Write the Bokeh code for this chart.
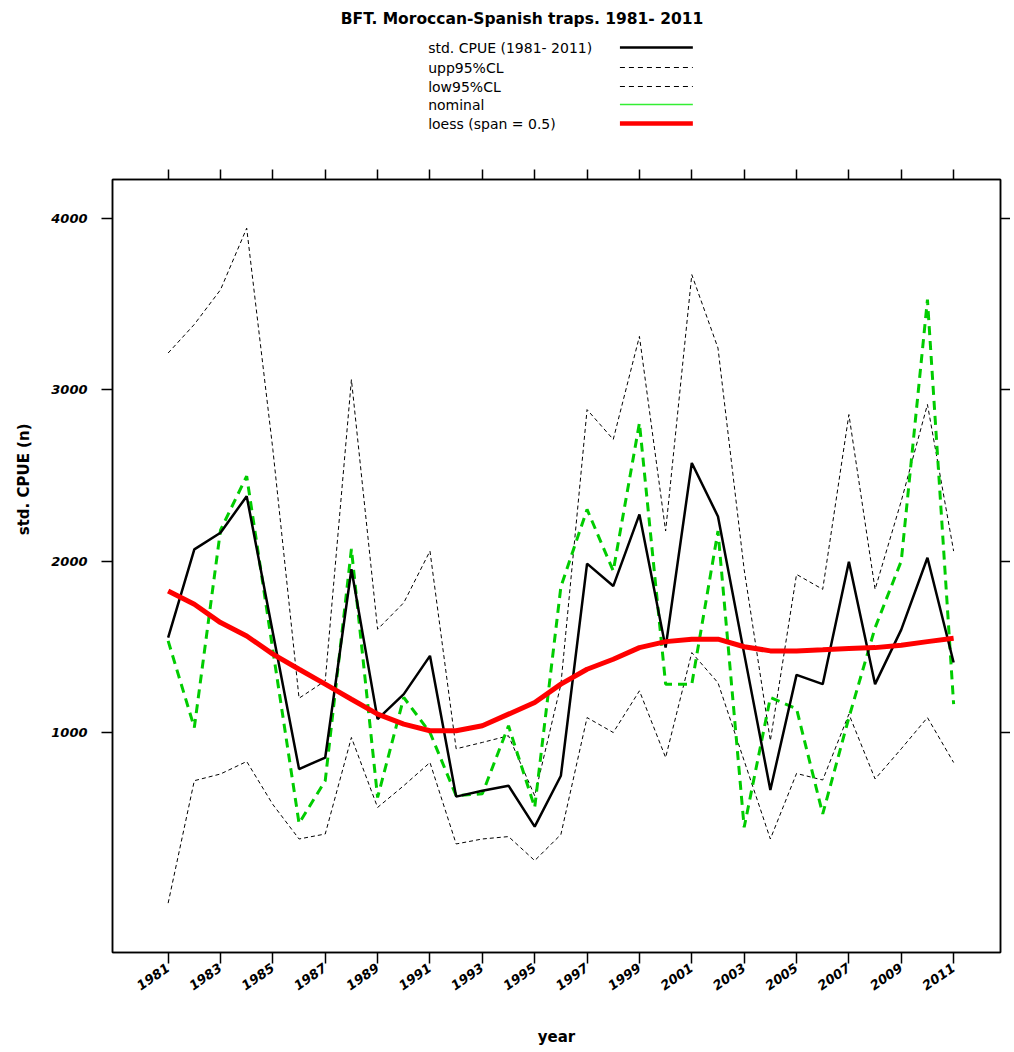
from bokeh.plotting import figure
from bokeh.models import Range1d, FixedTicker, LinearAxis, Title, ColumnDataSource
from bokeh.layouts import column
from bokeh.embed import file_html
from bokeh.resources import INLINE
from bokeh.core.properties import value

years = list(range(1981, 2012))
std_cpue = [1553, 2068, 2165, 2378, 1582, 787, 854, 1952, 1078, 1224, 1447, 626, 660, 690, 451,
            748, 1985, 1854, 2272, 1495, 2572, 2260, 1460, 665, 1336, 1282, 1996, 1282, 1600, 2019, 1408]
upp95 = [3213, 3380, 3582, 3941, 2650, 1200, 1301, 3058, 1602, 1757, 2058, 905, 942, 981, 631,
         1280, 2883, 2709, 3310, 2175, 3670, 3242, 1950, 952, 1922, 1835, 2854, 1835, 2350, 2913, 2058]
low95 = [5, 719, 758, 831, 580, 379, 408, 971, 563, 690, 825, 350, 379, 393, 253,
         405, 1087, 1000, 1243, 854, 1466, 1290, 835, 379, 761, 723, 1107, 729, 905, 1087, 825]
nominal = [1534, 1029, 2180, 2495, 1480, 470, 719, 2070, 621, 1204, 1000, 631, 643, 1039, 563,
           1850, 2301, 1942, 2805, 1282, 1282, 2175, 447, 1204, 1138, 525, 1087, 1611, 2000, 3524, 1165]
loess = [1825, 1748, 1641, 1563, 1457, 1369, 1282, 1194, 1107, 1049, 1010, 1010, 1039, 1107, 1175,
         1282, 1369, 1427, 1495, 1530, 1544, 1544, 1500, 1476, 1476, 1482, 1490, 1495, 1509, 1530, 1550]

x_ticks = years[::2]
y_ticks = [1000, 2000, 3000, 4000]

title_text = "BFT. Moroccan-Spanish traps. 1981- 2011"
legend_labels = ["std. CPUE (1981- 2011)", "upp95%CL", "low95%CL", "nominal", "loess (span = 0.5)"]

FONT = "DejaVu Sans"
W = 1010
BL, BR = 112, 9

# ---------- header (title + legend) ----------
head = figure(width=W, height=150, x_range=Range1d(BL, W - BR), y_range=Range1d(150, 0),
              output_backend="svg", toolbar_location=None,
              min_border_left=BL, min_border_right=BR, min_border_top=0, min_border_bottom=0)
head.axis.visible = False
head.grid.visible = False
head.outline_line_color = None

head.text(x=[522], y=[18], text=[title_text], text_align="center", text_baseline="middle",
          text_font=value(FONT), text_font_size="15.5px", text_font_style="bold", text_color="black")

rows_y = [47, 67, 86, 104, 123]
head.text(x=[428] * 5, y=rows_y, text=legend_labels, text_align="left", text_baseline="middle",
          text_font=value(FONT), text_font_size="14px", text_color="black")
lx = [620, 693]
head.line(lx, [rows_y[0]] * 2, line_color="black", line_width=2.5)
head.line(lx, [rows_y[1]] * 2, line_color="black", line_width=1, line_dash="5 4")
head.line(lx, [rows_y[2]] * 2, line_color="black", line_width=1, line_dash="5 4")
head.line(lx, [rows_y[3]] * 2, line_color="#33ee33", line_width=1.5)
head.line(lx, [rows_y[4]] * 2, line_color="#ff0000", line_width=4.5)

# ---------- main plot ----------
p = figure(width=W, height=900, x_range=Range1d(1978.875, 2012.79), y_range=Range1d(-283, 4225),
           output_backend="svg", toolbar_location=None,
           min_border_left=BL, min_border_right=BR, min_border_top=29, min_border_bottom=98)
p.grid.visible = False
p.outline_line_color = "black"
p.outline_line_width = 1.5

src = ColumnDataSource(dict(year=years, std=std_cpue, upp=upp95, low=low95, nom=nominal, lo=loess))

p.line("year", "upp", source=src, line_color="black", line_width=1, line_dash="4 3")
p.line("year", "low", source=src, line_color="black", line_width=1, line_dash="4 3")
p.line("year", "nom", source=src, line_color="#00cc00", line_width=3, line_dash="9 6")
p.line("year", "std", source=src, line_color="black", line_width=2.5)
p.line("year", "lo", source=src, line_color="#ff0000", line_width=5)

for ax in [p.xaxis[0], p.yaxis[0]]:
    ax.axis_line_color = "black"
    ax.axis_line_width = 1.5
    ax.major_tick_in = 0
    ax.major_tick_out = 11
    ax.major_tick_line_width = 1.5
    ax.minor_tick_line_color = None
    ax.major_label_text_font = FONT
    ax.major_label_text_font_style = "bold italic"
    ax.major_label_text_font_size = "13px"
    ax.major_label_text_color = "black"
    ax.axis_label_text_font = FONT
    ax.axis_label_text_font_style = "bold"
    ax.axis_label_text_font_size = "15px"
    ax.axis_label_text_color = "black"

p.xaxis[0].ticker = FixedTicker(ticks=x_ticks)
p.xaxis[0].major_label_orientation = 0.6
p.xaxis[0].major_label_standoff = 3
p.xaxis[0].axis_label = "year"
p.xaxis[0].axis_label_standoff = 31

p.yaxis[0].ticker = FixedTicker(ticks=y_ticks)
p.yaxis[0].major_label_orientation = "horizontal"
p.yaxis[0].major_label_standoff = 14
p.yaxis[0].axis_label = None

top_ax = LinearAxis(ticker=FixedTicker(ticks=x_ticks), major_label_text_color=None,
                    axis_line_width=1.5, major_tick_in=0, major_tick_out=10,
                    major_tick_line_width=1.5, minor_tick_line_color=None)
right_ax = LinearAxis(ticker=FixedTicker(ticks=y_ticks), major_label_text_color=None,
                      axis_line_width=1.5, major_tick_in=0, major_tick_out=10,
                      major_tick_line_width=1.5, minor_tick_line_color=None)
p.add_layout(top_ax, "above")
p.add_layout(right_ax, "right")

ylab = Title(text="std. CPUE (n)", align="right", offset=244, standoff=28, vertical_align="top",
             text_font=FONT, text_font_size="15px", text_font_style="bold", text_color="black")
p.add_layout(ylab, "left")

layout = column(head, p, spacing=0)
open("out.html", "w").write(file_html(layout, INLINE))
